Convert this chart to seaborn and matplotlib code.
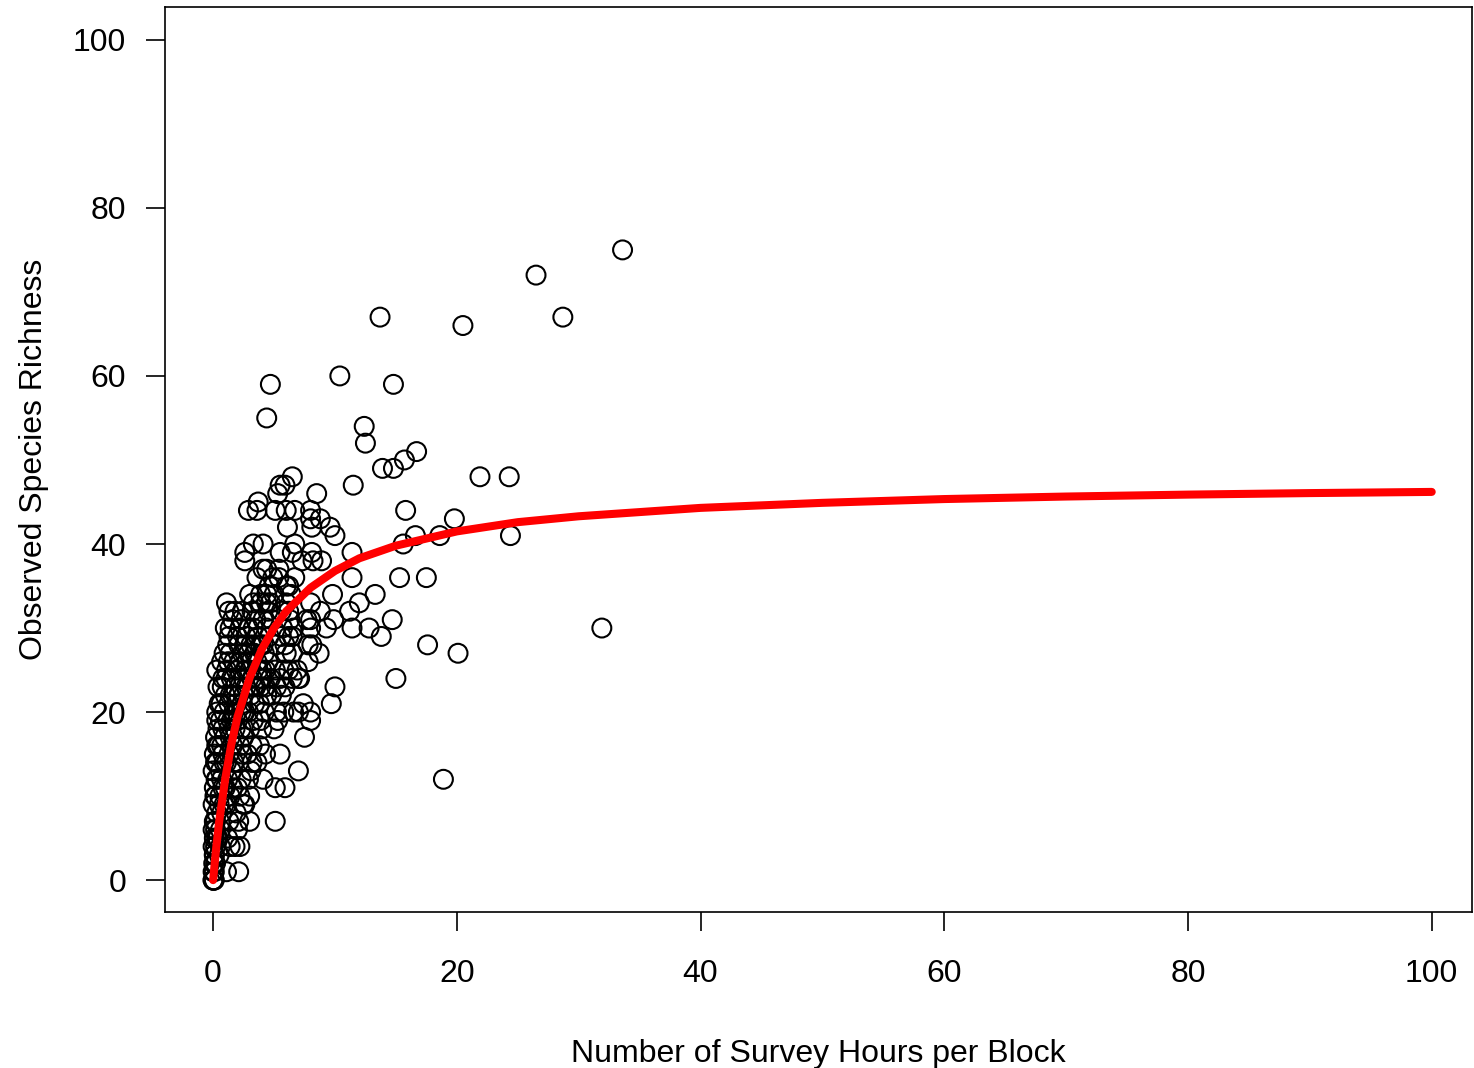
import pandas as pd
import matplotlib
matplotlib.use("Agg")
import matplotlib.pyplot as plt
import seaborn as sns

# Blocks away from the dense core (read point by point)
outer_hours = [
    33.6, 26.5, 28.7, 13.7, 20.5, 10.4, 4.7, 14.8, 4.4, 12.4, 12.5, 16.7, 15.7, 13.9, 14.8,
    11.5, 21.9, 24.3, 8.5, 15.8, 19.8, 24.4, 18.6, 16.6, 15.6, 11.4, 11.4, 15.3, 17.5, 9.8,
    13.3, 12.0, 11.2, 14.7, 11.4, 12.8, 13.8, 31.9, 17.6, 20.1, 15.0, 18.9, 10.0, 9.7, 7.5,
    7.0, 5.9, 5.1, 4.1, 5.5, 4.3, 8.0, 8.0, 7.0, 5.8, 6.6, 5.2, 7.4, 7.0, 6.2,
    7.8, 8.7, 8.1, 9.3, 9.9, 8.8, 8.0, 7.7, 8.0, 6.2, 6.2, 6.7, 8.9, 8.2, 8.1,
    7.3, 6.7, 6.5, 10.0, 9.6, 8.1, 8.8, 8.0, 8.0, 6.1, 6.7, 6.0, 6.5, 5.9, 5.5,
    5.3, 3.7, 2.9, 3.6, 5.1, 3.3, 4.1, 2.6, 2.6, 5.5, 4.1, 4.4, 5.4, 3.6, 4.9,
    5.4, 6.0, 3.0, 3.9, 4.4, 1.1, 1.8, 1.3, 3.3, 3.9, 4.4, 2.4, 3.2, 5.6, 6.2,
    8.0, 1.4, 2.2, 2.9, 5.6, 6.5, 1.3, 2.1, 2.6, 5.2, 5.9, 6.5, 7.8, 0.7, 0.3,
    4.7, 4.4, 4.8, 4.0, 5.1, 5.8, 6.5, 7.1, 6.9, 3.6, 3.2, 3.0, 2.5, 2.6, 3.0,
    2.1, 5.1, 2.2, 1.8, 1.4, 2.1, 1.1,
]
outer_richness = [
    75, 72, 67, 67, 66, 60, 59, 59, 55, 54, 52, 51, 50, 49, 49,
    47, 48, 48, 46, 44, 43, 41, 41, 41, 40, 39, 36, 36, 36, 34,
    34, 33, 32, 31, 30, 30, 29, 30, 28, 27, 24, 12, 23, 21, 17,
    13, 11, 11, 12, 15, 15, 19, 20, 20, 20, 20, 20, 21, 24, 25,
    26, 27, 28, 30, 31, 32, 30, 31, 33, 29, 35, 36, 38, 38, 39,
    38, 40, 39, 41, 42, 42, 43, 44, 43, 42, 44, 44, 48, 47, 47,
    46, 45, 44, 44, 44, 40, 40, 39, 38, 39, 37, 37, 37, 36, 36,
    36, 35, 34, 34, 34, 33, 32, 32, 33, 33, 33, 32, 32, 32, 32,
    31, 30, 30, 30, 29, 29, 29, 28, 28, 28, 28, 27, 28, 26, 25,
    24, 22, 22, 25, 25, 25, 24, 24, 25, 14, 14, 10, 9, 9, 7,
    7, 7, 4, 4, 4, 1, 1,
]

# Dense core near the origin (estimated)
core_hours = [
    0.0, 0.0, 0.05, 0.1, 0.0, 0.1, 0.05, 0.2, 0.1, 0.0, 0.2, 0.1, 0.3, 0.0, 0.2,
    0.1, 0.3, 0.0, 0.2, 0.1, 0.3, 0.0, 0.2, 0.1, 0.3, 0.2, 0.4, 0.3, 0.5, 0.4,
    0.5, 0.6, 0.7, 0.5, 0.8, 0.6, 0.9, 0.7, 0.8, 0.9, 0.6, 1.0, 0.8, 1.1, 0.9,
    1.2, 1.0, 1.2, 1.3, 1.1, 1.4, 1.2, 1.5, 1.3, 1.6, 1.4, 1.5, 1.7, 1.3, 1.6,
    1.8, 1.5, 1.9, 1.7, 1.4, 2.0, 1.6, 2.0, 1.9, 2.2, 2.0, 2.3, 2.1, 2.4, 2.2,
    2.5, 2.3, 2.0, 2.6, 2.4, 2.1, 2.7, 2.5, 2.2, 2.8, 2.4, 2.7, 2.3, 2.9, 3.1,
    2.8, 3.2, 3.0, 3.3, 2.9, 3.4, 3.1, 3.5, 3.2, 3.0, 3.6, 3.4, 3.1, 3.7, 3.3,
    3.5, 3.8, 4.0, 3.9, 4.2, 3.8, 4.3, 4.0, 4.5, 4.2, 3.9, 4.6, 4.4, 4.1, 4.8,
    4.7, 5.0, 4.6, 5.0, 5.3, 5.6, 5.2, 5.9, 5.5, 6.0, 5.7, 6.3, 6.0, 6.4, 6.6,
]
core_richness = [
    0, 0, 0, 0, 1, 1, 2, 2, 3, 4, 4, 5, 5, 6, 6,
    7, 8, 9, 10, 11, 12, 13, 14, 15, 16, 17, 18, 20, 21, 23,
    3, 6, 8, 9, 11, 13, 14, 16, 18, 20, 19, 22, 24, 25, 27,
    28, 30, 5, 7, 9, 10, 12, 13, 15, 16, 17, 19, 20, 21, 22,
    23, 24, 25, 26, 27, 29, 31, 6, 8, 10, 11, 12, 14, 15, 16,
    17, 18, 19, 20, 21, 22, 23, 24, 26, 26, 27, 29, 31, 12, 13,
    15, 16, 18, 19, 20, 21, 22, 23, 24, 25, 26, 27, 28, 29, 30,
    31, 16, 18, 19, 20, 21, 23, 24, 26, 27, 28, 29, 30, 31, 31,
    33, 34, 35, 18, 19, 22, 23, 23, 24, 27, 30, 31, 33, 34, 30,
]

# More overlapping blocks inside the core (estimated)
extra_hours = [
    0.1, 0.2, 0.15, 0.25, 0.4, 0.35, 0.45, 0.3, 0.6, 0.55, 0.7, 0.65, 0.8, 0.75, 0.9,
    1.0, 1.1, 0.95, 1.2, 1.05, 1.3, 1.25, 1.4, 1.6, 1.7, 1.8, 1.9, 2.1, 2.3, 2.5,
    2.7, 2.9, 3.1, 3.3, 3.5, 3.7, 3.9, 4.1, 4.3, 4.5,
]
extra_richness = [
    3, 7, 10, 12, 5, 14, 16, 19, 4, 10, 12, 21, 15, 23, 9,
    11, 14, 17, 19, 24, 18, 26, 22, 11, 14, 18, 21, 24, 20, 22,
    25, 27, 26, 23, 28, 25, 23, 28, 25, 32,
]

# Fitted accumulation curve
curve_hours = [0, 0.25, 0.5, 1, 1.5, 2, 3, 4, 5, 6, 8, 10, 12, 15, 20, 25, 30, 40,
               50, 60, 70, 80, 90, 100]
curve_richness = [0, 3.8, 7.0, 12.1, 16.2, 19.4, 24.1, 27.5, 30.0, 32.0, 34.8, 36.8,
                  38.3, 39.8, 41.5, 42.6, 43.3, 44.3, 44.9, 45.35, 45.65, 45.88, 46.06, 46.2]

points = pd.DataFrame({
    "hours": outer_hours + core_hours + extra_hours,
    "richness": outer_richness + core_richness + extra_richness,
})
curve = pd.DataFrame({"hours": curve_hours, "richness": curve_richness})

sns.set_style("ticks")
plt.rcParams["font.family"] = ["Liberation Sans", "DejaVu Sans"]
plt.rcParams["text.color"] = "black"
plt.rcParams["axes.labelcolor"] = "black"
plt.rcParams["xtick.color"] = "black"
plt.rcParams["ytick.color"] = "black"

fig = plt.figure(figsize=(14.74, 10.68), dpi=100)
ax = fig.add_axes([0.112, 0.146, 0.8866, 0.8474])

sns.scatterplot(data=points, x="hours", y="richness", ax=ax, marker="o",
                s=185, facecolor="none", edgecolor="black", linewidth=1.5)
sns.lineplot(data=curve, x="hours", y="richness", ax=ax, color="red",
             linewidth=5.8, sort=False, estimator=None)

ax.set_xlim(-3.94, 103.3)
ax.set_ylim(-3.8, 103.9)
ax.set_xticks([0, 20, 40, 60, 80, 100])
ax.set_yticks([0, 20, 40, 60, 80, 100])
ax.tick_params(axis="both", labelsize=23, length=14, width=1.2, colors="black",
               direction="out")
ax.tick_params(axis="x", pad=20)
ax.tick_params(axis="y", pad=14)

for side in ["top", "right", "bottom", "left"]:
    ax.spines[side].set_visible(True)
    ax.spines[side].set_color("black")
    ax.spines[side].set_linewidth(1.2)

ax.set_xlabel("Number of Survey Hours per Block", fontsize=23, labelpad=36)
ax.set_ylabel("Observed Species Richness", fontsize=23, labelpad=17)

fig.savefig("out.png", dpi=100)
